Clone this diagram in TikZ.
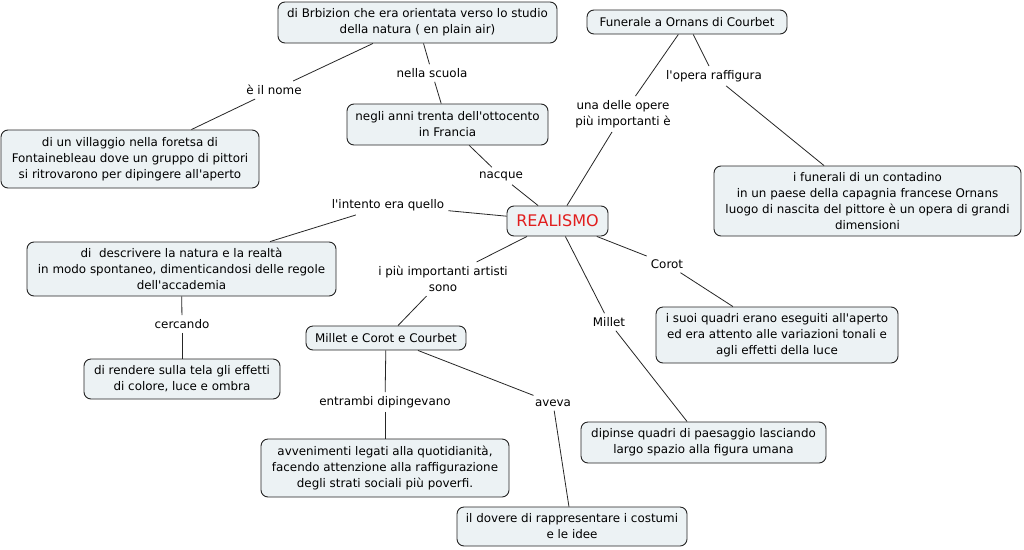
\documentclass[tikz,border=0pt]{standalone}
\usepackage{fontspec}
\setmainfont{DejaVu Sans}
\newcommand{\ap}{\textquotesingle}
\definecolor{boxfill}{RGB}{236,242,244}
\definecolor{boxline}{RGB}{35,35,35}
\definecolor{realred}{RGB}{225,30,30}
\begin{document}
\begin{tikzpicture}[x=1pt,y=-1pt,
  concept/.style={draw=boxline, fill=boxfill, rounded corners=7pt, line width=0.9pt, align=center, inner sep=0pt, font=\fontsize{11.9}{16}\selectfont},
  lbl/.style={align=center, inner sep=4pt, font=\fontsize{11.9}{16}\selectfont},
  conn/.style={draw=black!85, line width=0.8pt}]
\useasboundingbox[fill=white] (0,0) rectangle (1024,549);
% concepts
\node[concept, minimum width=279pt, minimum height=41pt] (brb) at (417.5,22.5) {di Brbizion che era orientata verso lo studio\\della natura ( en plain air)};
\node[concept, minimum width=200pt, minimum height=24pt] (fun) at (687,22) {Funerale a Ornans di Courbet};
\node[concept, minimum width=201pt, minimum height=41pt] (anni) at (447.5,124.5) {negli anni trenta dell\ap ottocento\\in Francia};
\node[concept, minimum width=258pt, minimum height=58pt] (vil) at (130,159) {di un villaggio nella foretsa di\\Fontainebleau dove un gruppo di pittori\\si ritrovarono per dipingere all\ap aperto};
\node[concept, minimum width=307pt, minimum height=70pt] (fnr) at (867.5,201) {i funerali di un contadino\\in un paese della capagnia francese Ornans\\luogo di nascita del pittore è un opera di grandi\\dimensioni};
\node[concept, minimum width=101pt, minimum height=30pt, font=\fontsize{16}{18}\selectfont, text=realred] (real) at (557.5,221) {REALISMO};
\node[concept, minimum width=309pt, minimum height=54pt] (descr) at (181.5,269) {di \ descrivere la natura e la realtà\\in modo spontaneo, dimenticandosi delle regole\\dell\ap accademia};
\node[concept, minimum width=160pt, minimum height=24pt] (mcc) at (386,338) {Millet e Corot e Courbet};
\node[concept, minimum width=242pt, minimum height=56pt] (suoi) at (777,335) {i suoi quadri erano eseguiti all\ap aperto\\ed era attento alle variazioni tonali e\\agli effetti della luce};
\node[concept, minimum width=196pt, minimum height=40pt] (rend) at (182,379) {di rendere sulla tela gli effetti\\di colore, luce e ombra};
\node[concept, minimum width=248pt, minimum height=58pt] (avv) at (385,468) {avvenimenti legati alla quotidianità,\\facendo attenzione alla raffigurazione\\degli strati sociali più poverfi.};
\node[concept, minimum width=245pt, minimum height=41pt] (dip) at (703.5,442.5) {dipinse quadri di paesaggio lasciando\\largo spazio alla figura umana};
\node[concept, minimum width=230pt, minimum height=39pt] (dov) at (572,526.5) {il dovere di rappresentare i costumi\\e le idee};
% linking phrases
\node[lbl] (l1) at (274,90) {è il nome};
\node[lbl] (l2) at (432,73) {nella scuola};
\node[lbl] (l3) at (623,114) {una delle opere\\più importanti è};
\node[lbl] (l4) at (714,76) {l\ap opera raffigura};
\node[lbl] (l5) at (501,176) {nacque};
\node[lbl] (l6) at (388,205) {l\ap intento era quello};
\node[lbl] (l7) at (443,279) {i più importanti artisti\\sono};
\node[lbl] (l8) at (667,264) {Corot};
\node[lbl] (l9) at (609,322) {Millet};
\node[lbl] (l10) at (182,324) {cercando};
\node[lbl] (l11) at (385,402) {entrambi dipingevano};
\node[lbl] (l12) at (553,403) {aveva};
% connectors
\draw[conn] (brb) -- (l1);  \draw[conn] (l1) -- (vil);
\draw[conn] (brb) -- (l2);  \draw[conn] (l2) -- (anni);
\draw[conn] (fun) -- (l3);  \draw[conn] (l3) -- (real);
\draw[conn] (fun) -- (l4);  \draw[conn] (l4) -- (fnr);
\draw[conn] (anni) -- (l5); \draw[conn] (l5) -- (real);
\draw[conn] (real) -- (l6); \draw[conn] (l6) -- (descr);
\draw[conn] (real) -- (l7); \draw[conn] (l7) -- (mcc);
\draw[conn] (real) -- (l8); \draw[conn] (l8) -- (suoi);
\draw[conn] (real) -- (l9); \draw[conn] (l9) -- (dip);
\draw[conn] (descr) -- (l10); \draw[conn] (l10) -- (rend);
\draw[conn] (mcc) -- (l11); \draw[conn] (l11) -- (avv);
\draw[conn] (mcc) -- (l12); \draw[conn] (l12) -- (dov);
\end{tikzpicture}
\end{document}
